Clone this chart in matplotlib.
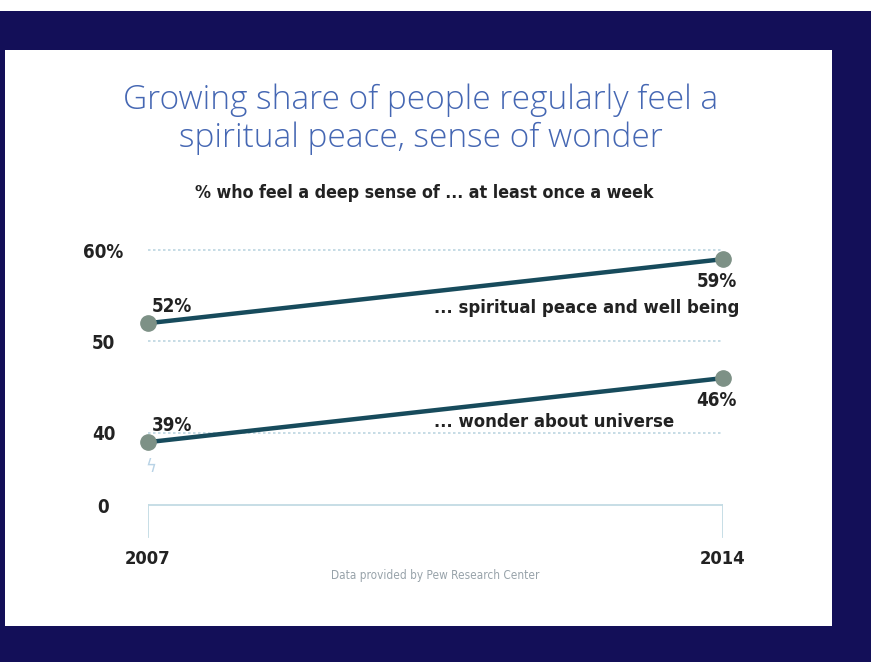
import matplotlib
matplotlib.use("Agg")
import matplotlib.pyplot as plt
from matplotlib.patches import Rectangle

years = [2007, 2014]
peace = [52, 59]
wonder = [39, 46]
series_labels = ["... spiritual peace and well being", "... wonder about universe"]
ytick_vals = [32.1, 40, 50, 60]
ytick_labels = ["0", "40", "50", "60%"]
xtick_labels = ["2007", "2014"]

NAVY = "#130f58"
BLUE = "#4567b3"
LINE = "#174b5c"
DOT = "#7d9186"
GRID = "#bcd5e0"
TXT = "#222222"
COND = ["DejaVu Sans"]
ST = "condensed"

fig = plt.figure(figsize=(8.71, 6.62), dpi=100)
fig.patch.set_facecolor("white")
W, H = 871, 662
fig.patches.append(Rectangle((0, 0), 1, (H - 11) / H, transform=fig.transFigure,
                             facecolor=NAVY, edgecolor="none", zorder=0))
fig.patches.append(Rectangle((5 / W, (H - 626) / H), (832 - 5) / W, (626 - 50) / H,
                             transform=fig.transFigure, facecolor="white",
                             edgecolor="none", zorder=1))

for txt, yy in (("Growing share of people regularly feel a", 100),
                ("spiritual peace, sense of wonder", 138)):
    fig.text(421 / W, 1 - yy / H, txt, ha="center", va="center", fontsize=24,
             color=BLUE, family="Open Sans", fontweight="light", zorder=3)
fig.text(424 / W, 1 - 193 / H, "% who feel a deep sense of ... at least once a week",
         ha="center", va="center", fontsize=12.8, color=TXT, family=COND,
         fontstretch=ST, fontweight="bold", zorder=3)
fig.text(435 / W, 1 - 575 / H, "Data provided by Pew Research Center",
         ha="center", va="center", fontsize=8.5, color="#98a3aa", family=COND,
         fontstretch=ST, zorder=3)

ylo, yhi = 28, 62
ptop = 433 - (yhi - 40) * 9.15
pbot = 433 - (ylo - 40) * 9.15
ax = fig.add_axes([148 / W, (H - pbot) / H, (723 - 148) / W, (pbot - ptop) / H])
ax.set_zorder(5)
ax.patch.set_alpha(0)
ax.set_xlim(years[0], years[1])
ax.set_ylim(ylo, yhi)
for s in ax.spines.values():
    s.set_visible(False)

for g in ytick_vals[1:]:
    ax.axhline(g, color=GRID, lw=1.2, ls=(0, (1.5, 1.5)), zorder=1)

base = ytick_vals[0]
ax.plot([years[0], years[1]], [base, base], color="#c3dbe4", lw=1.3, zorder=1)
ax.plot([years[0], years[0]], [base, 28.6], color="#c3dbe4", lw=1.3, zorder=1)
ax.plot([years[1], years[1]], [base, 28.6], color="#c3dbe4", lw=1.3, zorder=1)
ax.text(years[0] + 0.03, 36.3, "ϟ", color="#b9d3e6", fontsize=12, ha="center",
        va="center", family="DejaVu Sans")

for vals in (peace, wonder):
    ax.plot(years, vals, color=LINE, lw=3.2, zorder=3, solid_capstyle="round",
            clip_on=False)
    ax.plot(years, vals, "o", color=DOT, ms=11, zorder=4, clip_on=False)
    ax.text(years[0] + 0.05, vals[0] + 1.8, f"{vals[0]}%", ha="left", va="center",
            fontsize=13.5, fontweight="bold", color=TXT, family=COND, fontstretch=ST)
    ax.text(years[1] + 0.17, vals[1] - 2.4, f"{vals[1]}%", ha="right", va="center",
            fontsize=13.5, fontweight="bold", color=TXT, family=COND, fontstretch=ST)

ax.text(2010.48, 53.7, series_labels[0], ha="left", va="center", fontsize=13.2,
        fontweight="bold", color=TXT, family=COND, fontstretch=ST)
ax.text(2010.48, 41.2, series_labels[1], ha="left", va="center", fontsize=13.2,
        fontweight="bold", color=TXT, family=COND, fontstretch=ST)

ax.set_yticks(ytick_vals, ytick_labels)
ax.tick_params(axis="y", length=0, pad=32)
for lab in ax.get_yticklabels():
    lab.set_ha("center")
    lab.set_fontsize(13.5)
    lab.set_fontweight("bold")
    lab.set_family(COND)
    lab.set_fontstretch(ST)
    lab.set_color(TXT)

ax.set_xticks(years, xtick_labels)
ax.tick_params(axis="x", length=0, pad=5)
for lab in ax.get_xticklabels():
    lab.set_fontsize(13.2)
    lab.set_fontweight("bold")
    lab.set_family(COND)
    lab.set_fontstretch(ST)
    lab.set_color(TXT)
xl = ax.get_xticklabels()

fig.savefig("out.png", dpi=100, facecolor=fig.get_facecolor())
